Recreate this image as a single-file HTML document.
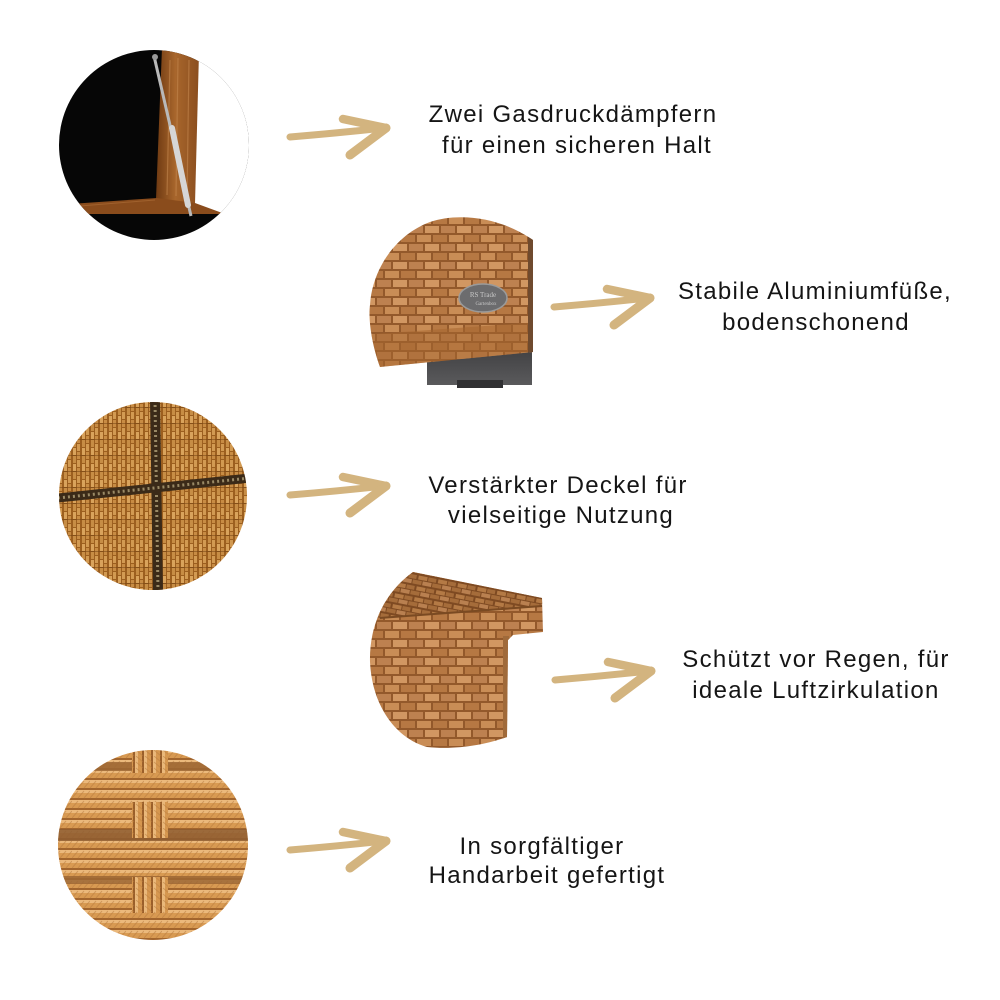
<!DOCTYPE html>
<html><head><meta charset="utf-8">
<style>
html,body{margin:0;padding:0;background:#fff;}
svg{display:block;}
text.t{font-family:"Liberation Sans","DejaVu Sans",sans-serif;font-size:24px;fill:#151515;letter-spacing:1.3px;}
</style></head><body>
<svg width="1000" height="1000" viewBox="0 0 1000 1000" xmlns="http://www.w3.org/2000/svg">
<defs>
  <pattern id="brick" width="32" height="18" patternUnits="userSpaceOnUse">
    <rect width="32" height="18" fill="#93592b"/>
    <rect x="1" y="1" width="14" height="7" fill="#c98d56"/>
    <rect x="17" y="1" width="14" height="7" fill="#b67843"/>
    <rect x="-7" y="10" width="14" height="7" fill="#bd8150"/>
    <rect x="9" y="10" width="14" height="7" fill="#d19762"/>
    <rect x="25" y="10" width="14" height="7" fill="#bd8150"/>
  </pattern>
  <pattern id="brick2" width="20" height="11" patternUnits="userSpaceOnUse" patternTransform="rotate(11)">
    <rect width="20" height="11" fill="#7e4a22"/>
    <rect x="1" y="1" width="9" height="4" fill="#b47a45"/>
    <rect x="11" y="1" width="8" height="4" fill="#a56c3a"/>
    <rect x="-4" y="6" width="9" height="4" fill="#a56c3a"/>
    <rect x="6" y="6" width="9" height="4" fill="#b98050"/>
    <rect x="16" y="6" width="9" height="4" fill="#a56c3a"/>
  </pattern>
  <pattern id="vweave" width="9" height="16" patternUnits="userSpaceOnUse">
    <rect width="9" height="16" fill="#9c5f1f"/>
    <rect x="1" y="0" width="3" height="7" fill="#d9a35c"/>
    <rect x="1" y="8" width="3" height="7" fill="#c78d45"/>
    <rect x="5" y="4" width="3" height="7" fill="#c88c44"/>
    <rect x="5" y="12" width="3" height="7" fill="#d29a52"/>
    <rect x="5" y="-4" width="3" height="7" fill="#d29a52"/>
    <rect x="0" y="7" width="9" height="1" fill="#6d3f12" opacity=".5"/>
  </pattern>
  <pattern id="rope" width="18" height="10" patternUnits="userSpaceOnUse">
    <rect width="18" height="10" fill="#d89a52"/>
    <rect y="0" width="18" height="3" fill="#ebb97c"/>
    <rect y="8" width="18" height="2" fill="#a2652d"/>
    <path d="M0,8 L6,1 M6,8 L12,1 M12,8 L18,1" stroke="#b87c3f" stroke-width="1" opacity=".55"/>
  </pattern>
  <pattern id="vrope" width="9" height="18" patternUnits="userSpaceOnUse">
    <rect width="9" height="18" fill="#d6974f"/>
    <rect x="0" width="3" height="18" fill="#eab87a"/>
    <rect x="7" width="2" height="18" fill="#9a5f2a"/>
    <path d="M1,0 L8,6 M1,6 L8,12 M1,12 L8,18" stroke="#b87c3f" stroke-width="1" opacity=".55"/>
  </pattern>
  <linearGradient id="gstrip" x1="0" x2="1" y1="0" y2="0">
    <stop offset="0" stop-color="#6f3a12"/>
    <stop offset=".45" stop-color="#a8662c"/>
    <stop offset="1" stop-color="#8b4e1f"/>
  </linearGradient>
  <linearGradient id="gfoot" x1="0" x2="0" y1="0" y2="1">
    <stop offset="0" stop-color="#3e3e40"/>
    <stop offset="1" stop-color="#5a5a5c"/>
  </linearGradient>
  <clipPath id="cl1"><circle cx="154" cy="145" r="95"/></clipPath>
  <clipPath id="cl2"><path d="M380,367 C372,345 368,320 370,305 C372,270 395,235 430,222 C460,212 500,218 530,238 L533,240 L533,352 Z"/></clipPath>
  <clipPath id="cl3"><circle cx="153" cy="496" r="94"/></clipPath>
  <clipPath id="cl4"><path d="M413,572 L542,598 L543,632 L513,635 L508,640 L507,737 C485,745 455,750 427,747 C395,738 372,705 370,662 C369,625 385,592 413,572 Z"/></clipPath>
  <clipPath id="cl5"><circle cx="153" cy="845" r="95"/></clipPath>
  <g id="arr" fill="none" stroke="#d3b47f" stroke-linecap="round" stroke-linejoin="round">
    <path d="M2,0 Q50,-4 96,-9" stroke-width="7"/>
    <path d="M55,-18 L98,-9" stroke-width="8.5"/>
    <path d="M98,-9 L62,18" stroke-width="9"/>
  </g>
</defs>

<!-- Circle 1 : gas spring -->
<g clip-path="url(#cl1)">
  <rect x="55" y="45" width="200" height="200" fill="#060606"/>
  <polygon points="197,40 260,40 260,214 224,214 194,204" fill="#ffffff"/>
  <polygon points="162,48 199,52 195,204 156,199" fill="url(#gstrip)"/>
  <path d="M170,60 L167,195 M178,58 L176,196 M189,60 L187,198" stroke="#c4874f" stroke-width="1.2" opacity=".6"/>
  <polygon points="55,205 157,198 195,203 225,214 55,214" fill="#8a4c1c"/>
  <path d="M80,206 L155,200" stroke="#b0703a" stroke-width="1" opacity=".6"/>
  <line x1="154" y1="56" x2="191" y2="216" stroke="#b9b9b9" stroke-width="3"/>
  <line x1="172" y1="128" x2="188" y2="205" stroke="#d6d6d6" stroke-width="6" stroke-linecap="round"/>
  <circle cx="155" cy="57" r="3" fill="#9a9a9a"/>
</g>

<!-- Circle 2 : foot -->
<rect x="427" y="345" width="105" height="40" fill="url(#gfoot)"/>
<rect x="457" y="380" width="46" height="8" fill="#303032"/>
<g clip-path="url(#cl2)">
  <rect x="360" y="210" width="180" height="170" fill="url(#brick)"/>
  <path d="M360,335 L540,322 L540,380 L360,380 Z" fill="#a5662f" opacity=".55"/>
  <rect x="528" y="230" width="6" height="125" fill="#6f4a2e"/>
</g>
<ellipse cx="483" cy="298" rx="24" ry="14" fill="#6c6c6e" stroke="#9a9a9a" stroke-width="1.5"/>
<text x="483" y="297" text-anchor="middle" font-family="Liberation Serif, serif" font-size="7" fill="#c8c8c8">RS Trade</text>
<text x="486" y="305" text-anchor="middle" font-family="Liberation Serif, serif" font-size="5" fill="#c8c8c8">Gartenbox</text>

<!-- Circle 3 : lid weave -->
<g clip-path="url(#cl3)">
  <rect x="55" y="398" width="200" height="200" fill="url(#vweave)"/>
  <path d="M155,400 L158,592" stroke="#3b2a18" stroke-width="10"/>
  <path d="M155,400 L158,592" stroke="#9a8a66" stroke-width="3" stroke-dasharray="2 3"/>
  <path d="M58,498 L250,478" stroke="#3b2a18" stroke-width="9"/>
  <path d="M58,498 L250,478" stroke="#9a8a66" stroke-width="3" stroke-dasharray="2 3"/>
</g>

<!-- Circle 4 : lid corner -->
<g clip-path="url(#cl4)">
  <rect x="360" y="560" width="190" height="195" fill="url(#brick)"/>
  <polygon points="405,560 550,596 540,606 380,618 365,620 365,560" fill="url(#brick2)"/>
  <line x1="380" y1="618" x2="542" y2="606" stroke="#7a4a22" stroke-width="2"/>
  <rect x="503" y="636" width="6" height="110" fill="#a06a3a"/>
</g>

<!-- Circle 5 : hand weave -->
<g clip-path="url(#cl5)">
  <rect x="55" y="748" width="200" height="200" fill="url(#rope)"/>
  <rect x="55" y="762" width="200" height="9" fill="#9c6634" opacity=".85"/>
  <rect x="55" y="829" width="200" height="12" fill="#8e5c30" opacity=".85"/>
  <rect x="55" y="876" width="200" height="8" fill="#9c6634" opacity=".85"/>
  <rect x="132" y="745" width="36" height="28" fill="url(#vrope)"/>
  <rect x="132" y="802" width="36" height="36" fill="url(#vrope)"/>
  <rect x="132" y="877" width="36" height="36" fill="url(#vrope)"/>
</g>

<!-- Arrows -->
<use href="#arr" transform="translate(288,137)"/>
<use href="#arr" transform="translate(552,307)"/>
<use href="#arr" transform="translate(288,495)"/>
<use href="#arr" transform="translate(553,680)"/>
<use href="#arr" transform="translate(288,850)"/>

<!-- Labels -->
<text class="t" x="573" y="122" text-anchor="middle">Zwei Gasdruckdämpfern</text>
<text class="t" x="577" y="153" text-anchor="middle">für einen sicheren Halt</text>

<text class="t" x="815" y="299" text-anchor="middle">Stabile Aluminiumfüße,</text>
<text class="t" x="816" y="330" text-anchor="middle">bodenschonend</text>

<text class="t" x="558" y="493" text-anchor="middle">Verstärkter Deckel für</text>
<text class="t" x="561" y="523" text-anchor="middle">vielseitige Nutzung</text>

<text class="t" x="816" y="667" text-anchor="middle">Schützt vor Regen, für</text>
<text class="t" x="816" y="698" text-anchor="middle">ideale Luftzirkulation</text>

<text class="t" x="542" y="854" text-anchor="middle">In sorgfältiger</text>
<text class="t" x="547" y="883" text-anchor="middle">Handarbeit gefertigt</text>
</svg>
</body></html>
